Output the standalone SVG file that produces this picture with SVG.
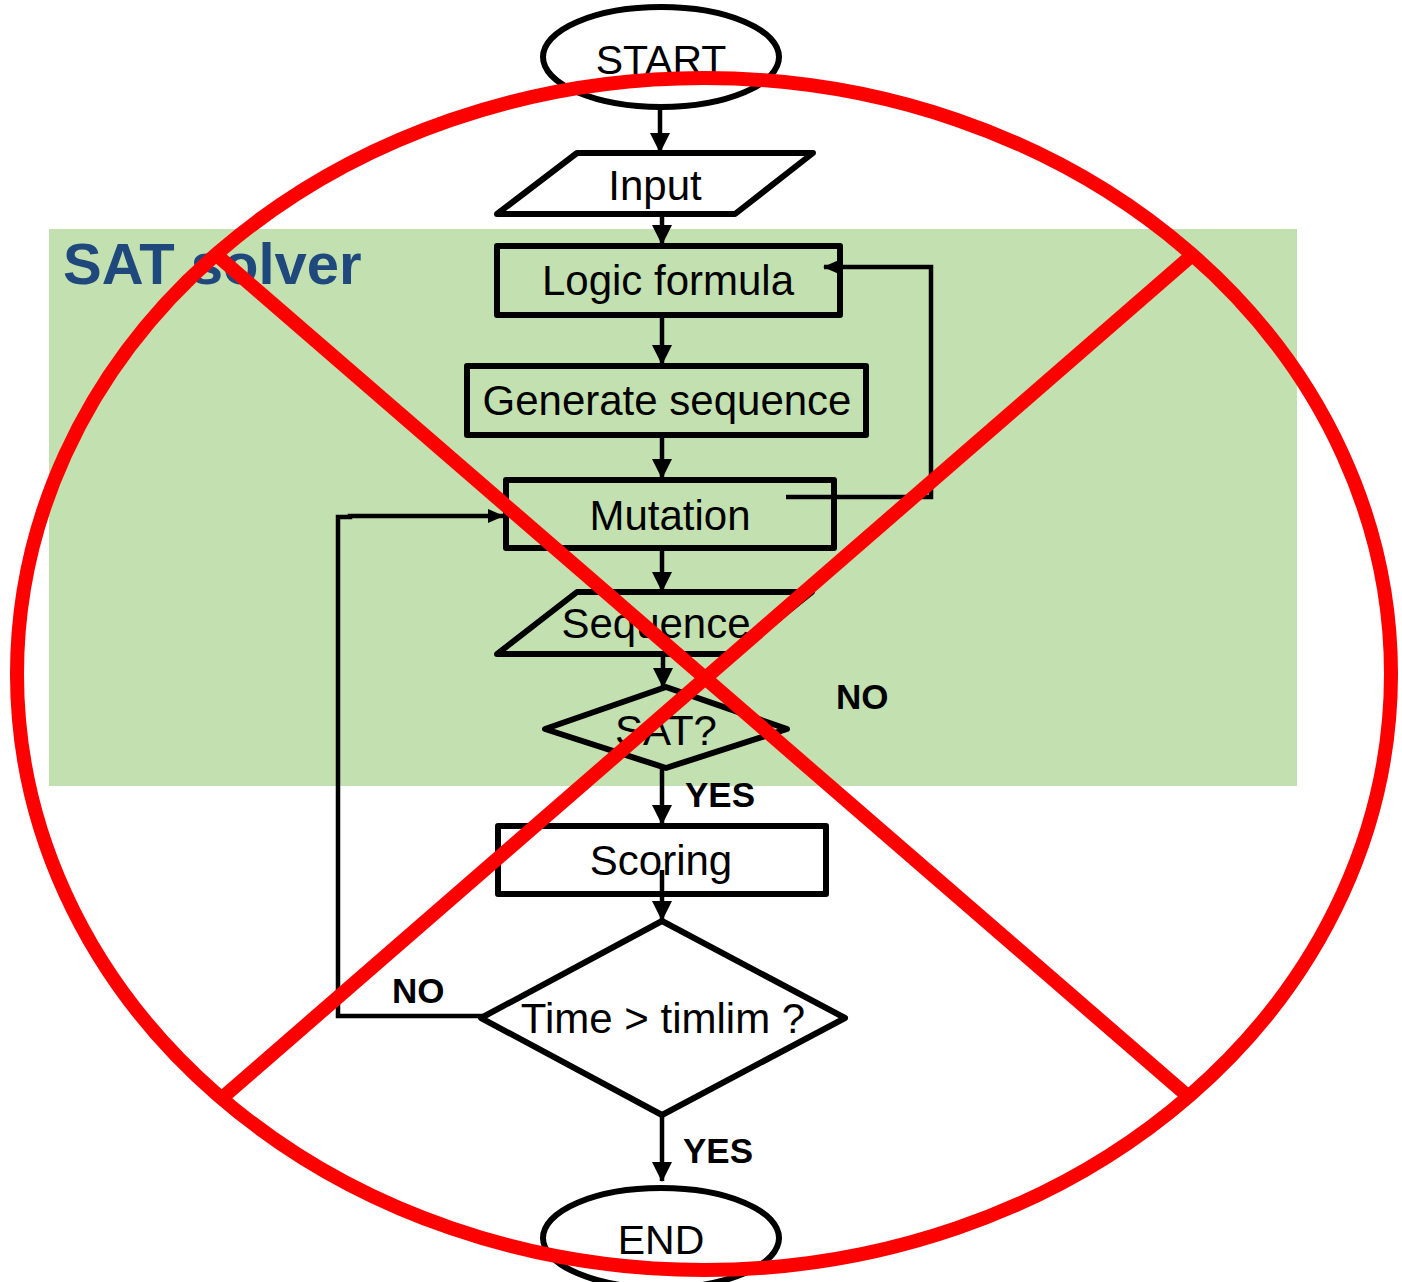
<svg xmlns="http://www.w3.org/2000/svg" width="1402" height="1282" viewBox="0 0 1402 1282">
<style>
.sh{fill:none;stroke:#000;stroke-width:6;stroke-linejoin:round}
.wh{fill:#fff;stroke:#000;stroke-width:6;stroke-linejoin:round}
.t{font-family:"Liberation Sans",Arial,sans-serif;font-size:42px;fill:#000;text-anchor:middle}
.lb{font-family:"Liberation Sans",Arial,sans-serif;font-size:35px;font-weight:bold;fill:#000}
.c{fill:none;stroke:#000;stroke-width:4.5}
.red{fill:none;stroke:#ff0000;stroke-width:14}
</style>
<defs>
<marker id="arr" markerUnits="userSpaceOnUse" markerWidth="20" markerHeight="20" refX="19" refY="10" orient="auto"><path d="M0,0 L20,10 L0,20 z" fill="#000"/></marker>
<marker id="arrS" markerUnits="userSpaceOnUse" markerWidth="16" markerHeight="14" refX="15" refY="7" orient="auto"><path d="M0,0 L16,7 L0,14 z" fill="#000"/></marker>
</defs>
<rect x="49" y="229" width="1248" height="557" fill="#c3e0b0"/>
<text x="63" y="284" font-family="Liberation Sans, Arial, sans-serif" font-size="58" font-weight="bold" fill="#1f497d">SAT solver</text>

<g id="start"><ellipse cx="661" cy="57" rx="118" ry="50" class="wh"/><text x="661" y="74" class="t" style="font-size:41px">START</text></g>
<g id="input"><polygon points="577,153 813,153 735,214 497,214" class="wh"/><text x="655" y="200" class="t">Input</text></g>
<g id="logic"><rect x="497" y="246" width="343" height="69" class="sh"/><text x="668" y="295" class="t">Logic formula</text></g>
<g id="generate"><rect x="467" y="366" width="399" height="69" class="sh"/><text x="667" y="415" class="t">Generate sequence</text></g>
<g id="mutation"><rect x="506" y="480" width="328" height="68" class="sh"/><text x="670" y="530" class="t">Mutation</text></g>
<g id="sequence"><polygon points="577,592 812,592 735,654 497,654" class="sh"/><text x="656" y="638" class="t">Sequence</text></g>
<g id="sat"><polygon points="666,687 787,729 666,768 545,729" class="sh"/><text x="666" y="745" class="t">SAT?</text></g>
<g id="scoring"><rect x="498" y="826" width="328" height="68" class="wh"/><text x="661" y="875" class="t">Scoring</text></g>
<g id="time"><polygon points="662,921 845,1018 662,1115 481,1018" class="wh"/><text x="663" y="1033" class="t">Time &gt; timlim ?</text></g>
<g id="end"><ellipse cx="661" cy="1238" rx="118" ry="50" class="wh"/><text x="661" y="1254" class="t" style="font-size:41px">END</text></g>

<g id="connectors">
<line x1="660" y1="108" x2="660" y2="152" class="c" marker-end="url(#arr)"/>
<line x1="662" y1="214" x2="662" y2="244" class="c" marker-end="url(#arr)"/>
<line x1="662" y1="317" x2="662" y2="364" class="c" marker-end="url(#arr)"/>
<line x1="662" y1="437" x2="662" y2="478" class="c" marker-end="url(#arr)"/>
<line x1="662" y1="550" x2="662" y2="591" class="c" marker-end="url(#arr)"/>
<line x1="663" y1="654" x2="663" y2="687" class="c" marker-end="url(#arr)"/>
<line x1="662" y1="768" x2="662" y2="824" class="c" marker-end="url(#arr)"/>
<line x1="662" y1="870" x2="662" y2="920" class="c" marker-end="url(#arr)"/>
<line x1="662" y1="1115" x2="662" y2="1181" class="c" marker-end="url(#arr)"/>
<polyline points="786,497 931,497 931,267 824,267" class="c" marker-end="url(#arrS)"/>
<polyline points="483,1016 338,1016 338,517 350,517 350,516 503,516" class="c" marker-end="url(#arrS)"/>
<text x="836" y="709" class="lb">NO</text>
<text x="685" y="807" class="lb">YES</text>
<text x="392" y="1003" class="lb">NO</text>
<text x="683" y="1163" class="lb">YES</text>
</g>

<g id="cross">
<ellipse cx="704" cy="674" rx="687" ry="596" class="red"/>
<line x1="220" y1="258" x2="1190" y2="1098" class="red"/>
<line x1="1190" y1="257" x2="222" y2="1098" class="red"/>
</g>
</svg>
